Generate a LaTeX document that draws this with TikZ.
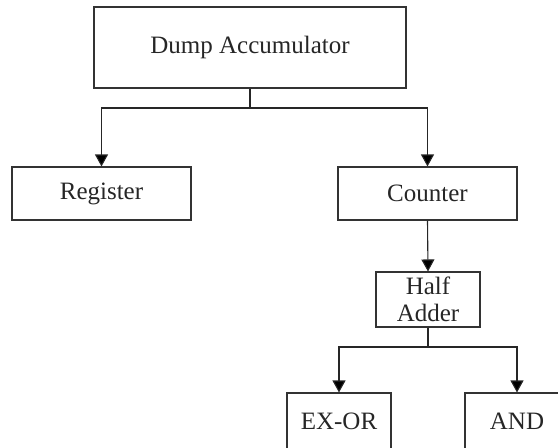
\documentclass[tikz,border=0pt]{standalone}
\usepackage{fontspec}
\setmainfont{Liberation Serif}
\usetikzlibrary{arrows.meta}
\begin{document}
\begin{tikzpicture}[x=1pt,y=-1pt,
  box/.style={draw=black!80,line width=1.1pt,inner sep=0pt,text=black!85,
    font=\fontsize{25}{27}\selectfont,align=center},
  conn/.style={draw=black!85,line width=1.1pt},
  arr/.style={conn,-{Triangle[width=13pt,length=12pt,fill=black]}}]
\useasboundingbox (0,0) rectangle (558,448);
\clip (0,0) rectangle (558,448);
\node[box,minimum width=312pt,minimum height=81pt] (dump) at (250,47.5) {Dump Accumulator};
\node[box,minimum width=179pt,minimum height=53pt] (reg) at (101.5,193.5) {Register};
\node[box,minimum width=179pt,minimum height=53pt] (cnt) at (427.5,193.5) {Counter};
\node[box,minimum width=104pt,minimum height=55pt] (half) at (428,299.5) {Half\\Adder};
\node[box,minimum width=104pt,minimum height=57pt] (exor) at (339,421.5) {EX-OR};
\node[box,minimum width=104pt,minimum height=57pt] (and) at (517,421.5) {AND};
\coordinate (j1) at (250,108);
\coordinate (j2) at (428,347);
\draw[conn] (dump.south) -- (j1);
\draw[arr] (j1) -| (reg.north);
\draw[arr] (j1) -| (cnt.north);
\draw[arr] (cnt.south) -- (half.north);
\draw[conn] (half.south) -- (j2);
\draw[arr] (j2) -| (exor.north);
\draw[arr] (j2) -| (and.north);
\end{tikzpicture}
\end{document}
